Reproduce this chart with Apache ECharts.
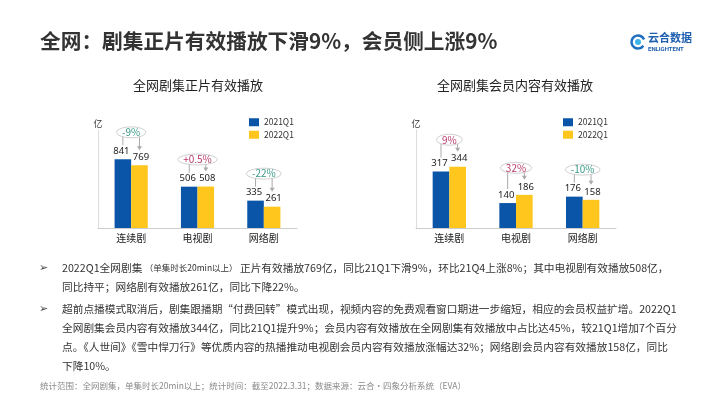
<!DOCTYPE html>
<html><head><meta charset="utf-8">
<script src="https://cdn.jsdelivr.net/npm/echarts@6/dist/echarts.min.js"></script>
<style>html,body{margin:0;padding:0;background:#fff}#c{width:710px;height:399px}</style>
</head><body><div id="c"></div>
<script>
const categories = ['连续剧', '电视剧', '网络剧'];
const seriesNames = ['2021Q1', '2022Q1'];
const left2021 = [841, 506, 335];
const left2022 = [769, 508, 261];
const leftChange = ['-9%', '+0.5%', '-22%'];
const right2021 = [317, 140, 176];
const right2022 = [344, 186, 158];
const rightChange = ['9%', '32%', '-10%'];
const unitLabel = '亿';
const mainTitle = '全网：剧集正片有效播放下滑9%，会员侧上涨9%';
const leftTitle = '全网剧集正片有效播放';
const rightTitle = '全网剧集会员内容有效播放';
const bullet1 = [
  '2022Q1全网剧集 {s|（单集时长20min以上）} 正片有效播放769亿，同比21Q1下滑9%，环比21Q4上涨8%；其中电视剧有效播放508亿，',
  '同比持平；网络剧有效播放261亿，同比下降22%。'
];
const bullet2 = [
  '超前点播模式取消后，剧集跟播期“付费回转”模式出现，视频内容的免费观看窗口期进一步缩短，相应的会员权益扩增。2022Q1',
  '全网剧集会员内容有效播放344亿，同比21Q1提升9%；会员内容有效播放在全网剧集有效播放中占比达45%，较21Q1增加7个百分',
  '点。《人世间》《雪中悍刀行》等优质内容的热播推动电视剧会员内容有效播放涨幅达32%；网络剧会员内容有效播放158亿，同比',
  '下降10%。'
];
const footnote = '统计范围：全网剧集，单集时长20min以上；统计时间：截至2022.3.31；数据来源：云合·四象分析系统（EVA）';

const FONT = '"Noto Sans CJK SC","Noto Sans",sans-serif';
const BLUE = '#0B55A8', YELLOW = '#FFC61E';
const NEG = '#3A9987', POS = '#B93A6C';

const mctx = document.createElement('canvas').getContext('2d');
mctx.font = '10px ' + FONT;

function makeAnno(changes) {
  return function (params, api) {
    const idx = api.value(0);
    const vb = api.value(1), vy = api.value(2);
    const base = api.coord([idx, 0]);
    const band = api.size([1, 0])[0];
    const bw = band * 0.25;
    const xb = base[0] - bw / 2, xy = base[0] + bw / 2;
    const yb = api.coord([idx, vb])[1], yy = api.coord([idx, vy])[1];
    const top = Math.min(yb, yy) - 27;
    const label = changes[params.dataIndex];
    const w = mctx.measureText(label).width;
    const rx = w / 2 + 5.5, ry = 5.5, cx = base[0], cy = top;
    const col = label.charAt(0) === '-' ? NEG : POS;
    const lineStyle = { stroke: '#aaaaaa', lineWidth: 1 };
    const endY = yy - 15;
    return {
      type: 'group',
      children: [
        { type: 'line', shape: { x1: xb, y1: cy, x2: xb, y2: yb - 14 }, style: lineStyle },
        { type: 'line', shape: { x1: xy, y1: cy, x2: xy, y2: endY - 3 }, style: lineStyle },
        { type: 'polygon', shape: { points: [[xy - 2.5, endY - 4], [xy + 2.5, endY - 4], [xy, endY]] }, style: { fill: '#aaaaaa' } },
        { type: 'path', shape: { pathData: `M${cx - rx} ${cy} A${rx} ${ry} 0 1 0 ${cx + rx} ${cy} A${rx} ${ry} 0 1 0 ${cx - rx} ${cy} Z` },
          style: { fill: '#ffffff', stroke: '#c4c4c4', lineWidth: 0.8 } },
        { type: 'text', x: cx, y: cy, style: { text: label, fill: col, fontSize: 10, fontFamily: FONT, align: 'center', verticalAlign: 'middle' } }
      ]
    };
  };
}

function annoData(a, b) { return a.map((v, i) => [i, v, b[i]]); }

const labelBase = { show: true, position: 'top', distance: 3, fontSize: 9.5, color: '#222', fontFamily: '"Noto Sans",sans-serif' };
const labelBlue = Object.assign({}, labelBase, { offset: [-1.5, 0] });
const labelYellow = Object.assign({}, labelBase, { offset: [1.5, 0] });

const textLines = [];
const bulletX = 62;
bullet1.forEach((t, i) => textLines.push({ text: t, y: 268 + i * 18.5 }));
bullet2.forEach((t, i) => textLines.push({ text: t, y: 309 + i * 19 }));

const graphics = [
  { type: 'text', x: 40, y: 41, style: { text: mainTitle, fontSize: 20.7, fontWeight: 'bold', fill: '#333', fontFamily: FONT, verticalAlign: 'middle' } },
  { type: 'text', x: 198, y: 85, style: { text: leftTitle, fontSize: 13, fill: '#222', fontFamily: FONT, align: 'center', verticalAlign: 'middle' } },
  { type: 'text', x: 515, y: 85, style: { text: rightTitle, fontSize: 13, fill: '#222', fontFamily: FONT, align: 'center', verticalAlign: 'middle' } },
  // logo
  { type: 'arc', shape: { cx: 638, cy: 42, r: 6.5, startAngle: 0.6, endAngle: 5.9 }, style: { stroke: '#1E6FC0', lineWidth: 2.5, fill: null } },
  { type: 'circle', shape: { cx: 638, cy: 42, r: 3 }, style: { fill: '#3FB3E8' } },
  { type: 'text', x: 648, y: 38, style: { text: '云合数据', fontSize: 11, fontWeight: 'bold', fill: '#1E5FAF', fontFamily: FONT, verticalAlign: 'middle' } },
  { type: 'text', x: 648, y: 49, style: { text: 'ENLIGHTENT', fontSize: 6, fontWeight: 'bold', fill: '#1E5FAF', fontFamily: 'Roboto,sans-serif', verticalAlign: 'middle' } },
  // bullets
  { type: 'text', x: 39, y: 268, style: { text: '➢', fontSize: 11, fill: '#444', fontFamily: 'DejaVu Sans', verticalAlign: 'middle' } },
  { type: 'text', x: 39, y: 309, style: { text: '➢', fontSize: 11, fill: '#444', fontFamily: 'DejaVu Sans', verticalAlign: 'middle' } },
  { type: 'text', x: 40, y: 386, style: { text: footnote, fontSize: 8.5, fill: '#8a8a8a', fontFamily: FONT, verticalAlign: 'middle' } }
];
textLines.forEach(l => graphics.push({
  type: 'text', x: bulletX, y: l.y,
  style: { text: l.text, fontSize: 10.7, fill: '#333', fontFamily: FONT, verticalAlign: 'middle',
    rich: { s: { fontSize: 8.5, fill: '#333', fontFamily: FONT, verticalAlign: 'middle' } } }
}));

const yAx = (max) => ({
  type: 'value', min: 0, max: max, name: unitLabel, nameLocation: 'end', nameGap: 2,
  nameTextStyle: { fontSize: 9, color: '#333', fontFamily: FONT },
  axisLine: { show: true, lineStyle: { color: '#dddddd' } },
  axisTick: { show: false }, axisLabel: { show: false }, splitLine: { show: false }
});
const xAx = (gi) => ({
  type: 'category', gridIndex: gi, data: categories,
  axisLine: { lineStyle: { color: '#cccccc' } }, axisTick: { show: false },
  axisLabel: { fontSize: 10, color: '#222', margin: 5, fontFamily: FONT }
});

const option = {
  animation: false,
  textStyle: { fontFamily: FONT },
  grid: [
    { left: 98, width: 199, top: 130, height: 98 },
    { left: 416, width: 200, top: 130, height: 98 }
  ],
  xAxis: [xAx(0), xAx(1)],
  yAxis: [Object.assign(yAx(1200), { gridIndex: 0 }), Object.assign(yAx(550), { gridIndex: 1 })],
  legend: [
    { data: seriesNames, orient: 'vertical', left: 244, top: 113, itemWidth: 10, itemHeight: 8, itemGap: 4,
      textStyle: { fontSize: 8.5, color: '#333' }, icon: 'rect', selectedMode: false },
    { data: seriesNames, orient: 'vertical', left: 558, top: 113, itemWidth: 10, itemHeight: 8, itemGap: 4,
      textStyle: { fontSize: 8.5, color: '#333' }, icon: 'rect', selectedMode: false }
  ],
  series: [
    { name: seriesNames[0], type: 'bar', xAxisIndex: 0, yAxisIndex: 0, data: left2021, barWidth: '25%', barGap: '0%', itemStyle: { color: BLUE }, label: labelBlue },
    { name: seriesNames[1], type: 'bar', xAxisIndex: 0, yAxisIndex: 0, data: left2022, barWidth: '25%', barGap: '0%', itemStyle: { color: YELLOW }, label: labelYellow },
    { name: seriesNames[0], type: 'bar', xAxisIndex: 1, yAxisIndex: 1, data: right2021, barWidth: '25%', barGap: '0%', itemStyle: { color: BLUE }, label: labelBlue },
    { name: seriesNames[1], type: 'bar', xAxisIndex: 1, yAxisIndex: 1, data: right2022, barWidth: '25%', barGap: '0%', itemStyle: { color: YELLOW }, label: labelYellow },
    { type: 'custom', xAxisIndex: 0, yAxisIndex: 0, data: annoData(left2021, left2022), renderItem: makeAnno(leftChange), z: 10, clip: false, silent: true },
    { type: 'custom', xAxisIndex: 1, yAxisIndex: 1, data: annoData(right2021, right2022), renderItem: makeAnno(rightChange), z: 10, clip: false, silent: true }
  ],
  graphic: graphics
};
const chart = echarts.init(document.getElementById('c'), null, { renderer: 'canvas' });
chart.setOption(option);
</script></body></html>
